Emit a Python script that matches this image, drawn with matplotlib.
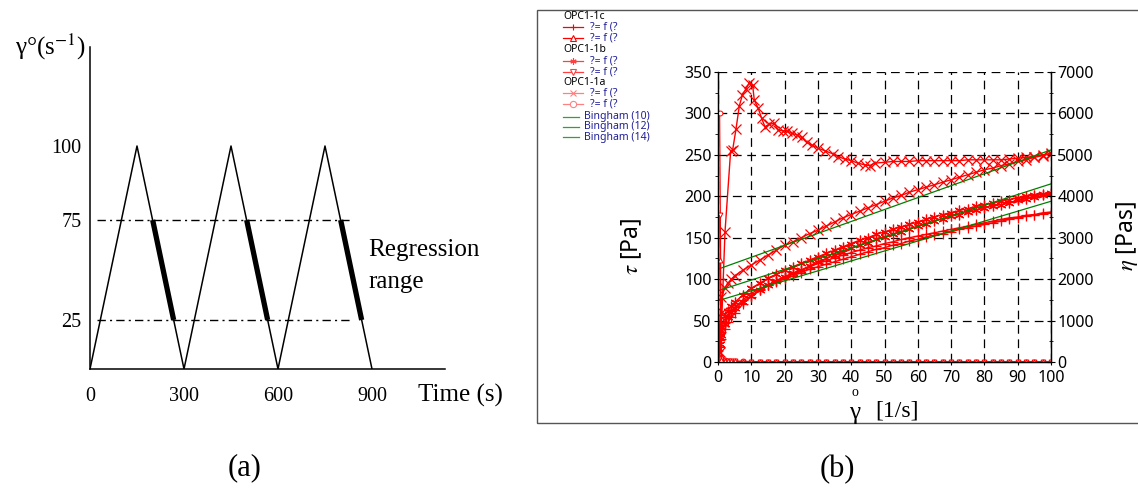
import numpy as np
import matplotlib.pyplot as plt
from matplotlib.lines import Line2D
from matplotlib.patches import Rectangle
from matplotlib.ticker import AutoMinorLocator

plt.rcParams['font.family'] = ['Liberation Serif', 'DejaVu Serif']
plt.rcParams['mathtext.fontset'] = 'stix'

# ---- (a) shear rate history ----
ramp_time = [0, 150, 300, 450, 600, 750, 900]
ramp_rate = [0, 100, 0, 100, 0, 100, 0]
reg_time_top = [200, 500, 800]
reg_time_bottom = [267, 567, 867]
reg_levels = [75, 25]
reg_line_span = [22, 836]
a_xticks = [0, 300, 600, 900]
a_yticks = [25, 75, 100]

# ---- (b) flow curves ----
shear = [0, 0.5, 1, 2, 3, 4, 5, 7.5, 10, 12.5, 15, 17.5, 20, 22.5, 25, 27.5, 30,
         32.5, 35, 37.5, 40, 42.5, 45, 47.5, 50, 52.5, 55, 57.5, 60, 62.5, 65,
         67.5, 70, 72.5, 75, 77.5, 80, 82.5, 85, 87.5, 90, 92.5, 95, 97.5, 100]

shear_1a_up = [0, 0.5, 1.2, 2.1, 3.8, 4.4, 5.4, 6.4, 7.3, 8.3, 9.4, 10.4, 10.9, 12.1,
               13.1, 14.1, 15.4, 16.9, 18.1, 19.4, 20.8, 22.1, 23.8, 25.1, 26.6, 28.1,
               30.1, 32.1, 34.6, 36.1, 38, 40, 42, 44, 45.5, 47, 50, 52.5, 55, 57.5,
               60, 62.5, 65, 67.5, 70, 72.5, 75, 77.5, 80, 82.5, 85, 87.5, 90, 92.5,
               95, 97.5, 100]
tau_1a_up = [0, 12, 60, 157, 255, 256, 281, 309, 322, 329, 337, 334, 316, 306, 294,
             284, 287, 288, 280, 279, 279, 276, 274, 271, 265, 262, 258, 255, 251, 248,
             245, 243, 240, 238, 237, 240, 241, 242, 242, 242, 243, 243, 243, 243, 243,
             243, 244, 244, 244, 244, 244, 245, 246, 247, 248, 250, 251]
tau_1a_down = [8, 45, 78, 89, 95, 100, 104, 111, 117, 123, 129, 135, 141, 145, 150,
               155, 159, 164, 169, 174, 178, 182, 186, 190, 194, 198, 201, 205, 208,
               211, 214, 217, 220, 223, 226, 229, 232, 234, 237, 239, 242, 244, 247,
               249, 252]
tau_1b_up = [0, 22, 33, 46, 54, 60, 65, 73, 80, 87, 93, 98, 103, 107, 111, 116,
             121, 125, 129, 133, 137, 141, 144, 148, 151, 154, 157, 161, 164, 167,
             170, 173, 176, 178, 181, 183, 186, 188, 190, 192, 195, 197, 199, 201, 203]
tau_1b_down = [6, 30, 42, 55, 62, 67, 72, 81, 89, 95, 101, 106, 111, 115, 119, 123,
               127, 131, 135, 139, 143, 147, 150, 154, 157, 160, 163, 166, 169, 172,
               175, 178, 180, 183, 185, 188, 190, 192, 194, 196, 198, 200, 201, 203, 204]
tau_1c_up = [0, 18, 28, 40, 48, 54, 59, 70, 79, 87, 93, 98, 103, 107, 111, 115,
             119, 122, 126, 129, 132, 135, 138, 140, 143, 145, 148, 150, 152, 154,
             156, 158, 160, 162, 164, 166, 168, 170, 172, 174, 175, 177, 178, 180, 181]
tau_1c_down = [5, 26, 36, 47, 55, 61, 66, 75, 83, 88, 93, 97, 100, 104, 108, 112, 115,
               118, 121, 124, 127, 130, 133, 136, 138, 141, 143, 146, 148, 151, 153,
               155, 157, 160, 162, 164, 166, 168, 170, 172, 174, 176, 177, 179, 180]

# viscosity (Pas), from shear[1:]
eta_1a = [6000, 90, 45, 33, 26, 22, 16, 12, 10, 9, 8, 7, 7, 6, 6, 6, 5, 5, 5, 5,
          4, 4, 4, 4, 4, 4, 4, 4, 3, 3, 3, 3, 3, 3, 3, 3, 3, 3, 3, 3, 3, 3, 3, 3]
eta_1b = [3550, 70, 35, 25, 20, 17, 12, 10, 8, 7, 6, 6, 5, 5, 5, 4, 4, 4, 4, 4,
          4, 3, 3, 3, 3, 3, 3, 3, 3, 3, 3, 3, 3, 3, 2, 2, 2, 2, 2, 2, 2, 2, 2, 2]
eta_1c = [2450, 55, 30, 22, 17, 15, 11, 9, 7, 6, 6, 5, 5, 5, 4, 4, 4, 4, 4, 3,
          3, 3, 3, 3, 3, 3, 3, 3, 2, 2, 2, 2, 2, 2, 2, 2, 2, 2, 2, 2, 2, 2, 2, 2]

bingham_labels = ['Bingham (10)', 'Bingham (12)', 'Bingham (14)']
bingham_tau0 = [112, 86, 74]
bingham_tau100 = [256, 215, 194]

W, H = 1138, 492


def fx(px):
    return px / W


def fy(py):
    return 1 - py / H


fig = plt.figure(figsize=(W / 100, H / 100), dpi=100)

# ================= panel (a) =================
axa = fig.add_axes([fx(90), fy(369), fx(445) - fx(90), fy(47) - fy(369)])
# schematic (non-uniform) vertical axis as drawn in the figure
yk_data = [0, 25, 75, 100, 144]
yk_px = [0, 49, 149, 223, 322]
axa.set_yscale('function', functions=(lambda y: np.interp(y, yk_data, yk_px),
                                      lambda p: np.interp(p, yk_px, yk_data)))
axa.plot(ramp_time, ramp_rate, color='black', lw=1.1)
for lev in reg_levels:
    axa.plot(reg_line_span, [lev, lev], color='black', lw=1.0,
             linestyle=(0, (6, 3, 1.5, 3)))
for t1, t2 in zip(reg_time_top, reg_time_bottom):
    axa.plot([t1, t2], reg_levels, color='black', lw=3.8, solid_capstyle='butt')
axa.set_xlim(0, 1133)
axa.set_ylim(0, 144)
axa.set_xticks(a_xticks)
axa.set_yticks(a_yticks)
axa.set_xticklabels([str(v) for v in a_xticks])
axa.set_yticklabels([str(v) for v in a_yticks])
axa.tick_params(axis='both', length=0, labelsize=14.5)
axa.tick_params(axis='x', pad=13)
axa.tick_params(axis='y', pad=6)
for s in ['top', 'right']:
    axa.spines[s].set_visible(False)
for s in ['left', 'bottom']:
    axa.spines[s].set_linewidth(1.1)
fig.text(fx(418), fy(395), 'Time (s)', fontsize=18, ha='left', va='center')
fig.text(fx(15), fy(47), 'γ°(s$^{-1}$)', fontsize=18, ha='left', va='center')
fig.text(fx(368), fy(250), 'Regression', fontsize=18, ha='left', va='center')
fig.text(fx(368), fy(282), 'range', fontsize=18, ha='left', va='center')
fig.text(fx(245), fy(468), '(a)', fontsize=22, ha='center', va='center')
fig.text(fx(837), fy(470), '(b)', fontsize=22, ha='center', va='center')

# ================= panel (b) =================
fig.add_artist(Rectangle((fx(537), fy(423)), fx(1150) - fx(537), fy(10) - fy(423),
                         transform=fig.transFigure, fill=False,
                         edgecolor='#555555', lw=1.0))

axb = fig.add_axes([fx(718), fy(362), fx(1051) - fx(718), fy(72) - fy(362)])
axe = axb.twinx()

red = '#ff0000'
mk = dict(markersize=7, markeredgewidth=0.9, lw=1.0, color=red)
axb.plot(shear_1a_up + shear[::-1], tau_1a_up + tau_1a_down[::-1], marker='x', **mk)
axb.plot(shear + shear[::-1], tau_1b_up + tau_1b_down[::-1], marker=(6, 2, 0), **mk)
axb.plot(shear + shear[::-1], tau_1c_up + tau_1c_down[::-1], marker='+', **mk)
for t0, t100 in zip(bingham_tau0, bingham_tau100):
    axb.plot([0, 100], [t0, t100], color='#008000', lw=0.9)

vk = dict(markersize=3.5, markeredgewidth=0.7, lw=0.8, color=red,
          markerfacecolor='white')
axe.plot(shear[1:], eta_1a, marker='o', **vk)
axe.plot(shear[1:], eta_1b, marker='v', **vk)
axe.plot(shear[1:], eta_1c, marker='^', **vk)

axb.set_xlim(0, 100)
axb.set_ylim(0, 350)
axe.set_ylim(0, 7000)
axb.set_xticks(range(0, 101, 10))
axb.set_yticks(range(0, 351, 50))
axe.set_yticks(range(0, 7001, 1000))
axb.grid(True, color='black', lw=0.9, linestyle=(0, (7, 4.5)))
axb.set_axisbelow(True)
for a in (axb, axe):
    a.spines['top'].set_visible(False)
    for s in ['left', 'right', 'bottom']:
        a.spines[s].set_linewidth(0.9)
axb.yaxis.set_minor_locator(AutoMinorLocator(2))
axe.yaxis.set_minor_locator(AutoMinorLocator(2))
axb.tick_params(axis='y', direction='out', length=3, width=0.8, pad=1.5)
axb.tick_params(axis='y', which='minor', direction='out', length=2, width=0.6)
axe.tick_params(axis='y', direction='inout', length=6, width=0.8, pad=1.5)
axe.tick_params(axis='y', which='minor', direction='inout', length=3, width=0.6)
axb.tick_params(axis='x', direction='out', length=2, width=0.8, pad=4)
for lab in axb.get_xticklabels() + axb.get_yticklabels() + axe.get_yticklabels():
    lab.set_fontfamily('Noto Sans')
    lab.set_fontsize(11.5)

fig.text(fx(632), fy(246), r'$\tau$ [Pa]', rotation=90, fontsize=16.5,
         fontfamily='Noto Sans', ha='center', va='center')
fig.text(fx(1127), fy(236), r'$\eta$ [Pas]', rotation=90, fontsize=16.5,
         fontfamily='Noto Sans', ha='center', va='center')
fig.text(fx(855), fy(413), 'γ', fontsize=18, ha='center', va='center')
fig.text(fx(855), fy(393), 'o', fontsize=10, ha='center', va='center')
fig.text(fx(897), fy(411), '[1/s]', fontsize=17, ha='center', va='center')

# legend block drawn at top-left of panel (b)
navy = '#1f1f99'
legend_rows = [
    ('OPC1-1c', None, None, 'black'),
    ('?= f (?', '+', red, navy),
    ('?= f (?', '^', red, navy),
    ('OPC1-1b', None, None, 'black'),
    ('?= f (?', (6, 2, 0), '#ff4040', navy),
    ('?= f (?', 'v', '#ff4040', navy),
    ('OPC1-1a', None, None, 'black'),
    ('?= f (?', 'x', '#ff8080', navy),
    ('?= f (?', 'o', '#ff8080', navy),
]
row_y = [16.7, 27.3, 38.3, 50, 61, 71.7, 82.7, 93.3, 104]
for (txt, m, c, tc), y in zip(legend_rows, row_y):
    if m is None:
        fig.text(fx(563), fy(y), txt, fontsize=7.5, fontfamily='Noto Sans',
                 color=tc, ha='left', va='center')
    else:
        fig.add_artist(Line2D([fx(563), fx(583)], [fy(y), fy(y)],
                              transform=fig.transFigure, color=c, lw=0.9))
        fig.add_artist(Line2D([fx(573)], [fy(y)], transform=fig.transFigure,
                              color=c, marker=m, markersize=4.5,
                              markerfacecolor='white', markeredgewidth=0.8))
        fig.text(fx(590), fy(y), txt, fontsize=7.5, fontfamily='Noto Sans',
                 color=tc, ha='left', va='center')
for lab, y in zip(bingham_labels, [116.7, 126.7, 137.3]):
    fig.add_artist(Line2D([fx(563), fx(579)], [fy(y), fy(y)],
                          transform=fig.transFigure, color='#33a033', lw=0.9))
    fig.text(fx(584), fy(y), lab, fontsize=7.5, fontfamily='Noto Sans',
             color=navy, ha='left', va='center')

fig.savefig('out.png', dpi=100)
